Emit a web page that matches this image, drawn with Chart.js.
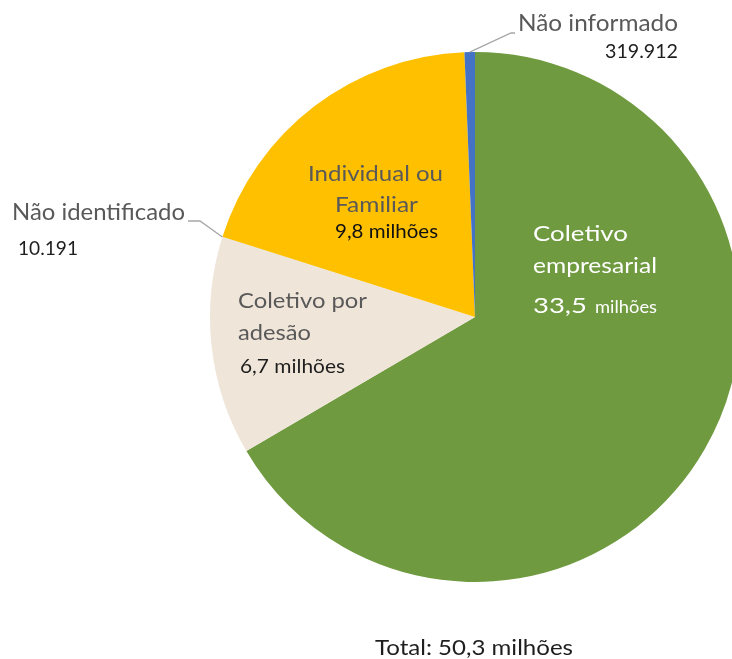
<!DOCTYPE html>
<html>
<head>
<meta charset="utf-8">
<script src="https://cdn.jsdelivr.net/npm/chart.js@4"></script>
<style>
  html, body { margin: 0; padding: 0; background: #fff; overflow: hidden; }
  #wrap { width: 760px; height: 659px; position: relative; }
</style>
</head>
<body>
<div id="wrap"><canvas id="pieChart"></canvas></div>
<script>
// data, clockwise from the top
const categories = ["Coletivo empresarial", "Coletivo por adesão", "Não identificado", "Individual ou Familiar", "Não informado"];
const beneficiarios = [33500000, 6700000, 10191, 9800000, 319912];
const sliceColors = ["#6f9a3f", "#f0e5d9", "#d9d9d9", "#ffc000", "#4472c4"];
const totalLabel = "Total: 50,3 milhões";

const FONT = "Lato, 'Open Sans', sans-serif";
const GRAY = "#595959";
const DARK = "#1e1e1e";

// draws text squeezed/stretched to a given width (original uses Calibri)
function txt(ctx, s, x, y, size, color, w) {
  ctx.save();
  ctx.font = size + "px " + FONT;
  ctx.fillStyle = color;
  ctx.textBaseline = "alphabetic";
  ctx.textAlign = "left";
  const m = ctx.measureText(s).width;
  ctx.translate(x, y);
  if (w) ctx.scale(w / m, 1);
  ctx.fillText(s, 0, 0);
  ctx.restore();
}

function edgePoint(arc) {
  const mid = (arc.startAngle + arc.endAngle) / 2;
  return { x: arc.x + Math.cos(mid) * arc.outerRadius, y: arc.y + Math.sin(mid) * arc.outerRadius };
}

const labelPlugin = {
  id: "labels",
  afterDraw(chart) {
    const ctx = chart.ctx;
    const arcs = chart.getDatasetMeta(0).data;

    // leader lines
    ctx.save();
    ctx.strokeStyle = "#a6a6a6";
    ctx.lineWidth = 1.3;
    let p = edgePoint(arcs[4]);
    ctx.beginPath();
    ctx.moveTo(p.x, p.y);
    ctx.lineTo(511, 33);
    ctx.lineTo(515, 33);
    ctx.stroke();
    p = edgePoint(arcs[2]);
    ctx.beginPath();
    ctx.moveTo(p.x, p.y);
    ctx.lineTo(200, 221);
    ctx.lineTo(188, 221);
    ctx.stroke();
    ctx.restore();

    // Não informado
    txt(ctx, "Não informado", 518, 31, 23, GRAY, 160);
    txt(ctx, "319.912", 605, 58, 18.5, DARK, 73);
    // Não identificado
    txt(ctx, "Não identificado", 12, 220, 23, GRAY, 173);
    txt(ctx, "10.191", 18, 255, 18.5, DARK, 60);
    // Individual ou Familiar
    txt(ctx, "Individual ou", 308, 181, 22, GRAY, 135);
    txt(ctx, "Familiar", 335, 212, 22, GRAY, 83);
    txt(ctx, "9,8 milhões", 335, 238, 18.5, "#111", 103);
    // Coletivo por adesão
    txt(ctx, "Coletivo por", 238, 308, 22, GRAY, 129);
    txt(ctx, "adesão", 238, 340, 22, GRAY, 73);
    txt(ctx, "6,7 milhões", 240, 373, 18.5, DARK, 105);
    // Coletivo empresarial
    txt(ctx, "Coletivo", 533, 241, 22, "#fff", 95);
    txt(ctx, "empresarial", 533, 273, 22, "#fff", 124);
    txt(ctx, "33,5", 533, 313, 22, "#fff", 54);
    txt(ctx, "milhões", 595, 313, 17, "#fff", 62);
    // total
    txt(ctx, totalLabel, 375, 655, 22, DARK, 198);
  }
};

new Chart(document.getElementById("pieChart"), {
  type: "pie",
  data: {
    labels: categories,
    datasets: [{
      data: beneficiarios,
      backgroundColor: sliceColors,
      borderWidth: 0
    }]
  },
  options: {
    responsive: true,
    maintainAspectRatio: false,
    animation: false,
    layout: { padding: { left: 210, right: 20, top: 52, bottom: 77 } },
    plugins: {
      legend: { display: false },
      tooltip: { enabled: false }
    }
  },
  plugins: [labelPlugin]
});
</script>
</body>
</html>
